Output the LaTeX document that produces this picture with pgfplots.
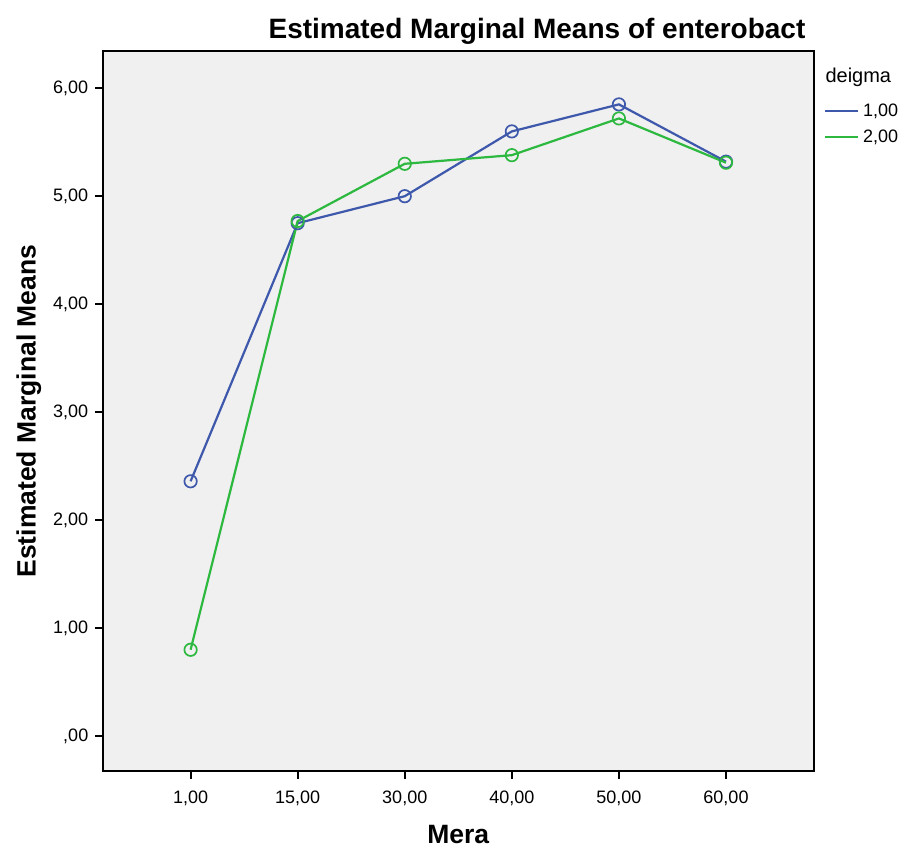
\documentclass[border=0pt]{standalone}
\usepackage{pgfplots}
\pgfplotsset{compat=1.18}
\usepackage{fontspec}
\setmainfont{Liberation Sans}
\definecolor{sblue}{HTML}{3E58AC}
\definecolor{sgreen}{HTML}{2DB83F}
\definecolor{bgray}{HTML}{F0F0F0}
\begin{document}
\begin{tikzpicture}[x=1pt,y=1pt]
\begin{axis}[
  at={(96,73)}, anchor=south west,
  width=711pt, height=720pt, scale only axis,
  xmin=-0.82, xmax=5.82, ymin=-0.324, ymax=6.343,
  axis background/.style={fill=bgray},
  axis line style={line width=1.6pt, black},
  xtick={0,1,2,3,4,5},
  xticklabels={{1,00},{15,00},{30,00},{40,00},{50,00},{60,00}},
  ytick={0,1,2,3,4,5,6},
  yticklabels={{,00},{1,00},{2,00},{3,00},{4,00},{5,00},{6,00}},
  tick align=outside, major tick length=8pt,
  xtick pos=bottom, ytick pos=left,
  tick style={line width=2pt, black},
  tick label style={font=\fontsize{18}{20}\selectfont},
  xticklabel style={yshift=-8pt},
  yticklabel style={xshift=-3pt},
  xlabel={\bfseries Mera},
  ylabel={\bfseries Estimated Marginal Means},
  label style={font=\fontsize{26.5}{30}\selectfont},
  xlabel style={at={(axis description cs:0.5,-0.0875)}, anchor=center},
  ylabel style={at={(axis description cs:-0.104,0.5)}, anchor=center},
  legend style={at={(1.014,0.928)}, anchor=north west, draw=none, fill=none,
    font=\fontsize{18}{20}\selectfont, row sep=10pt, inner sep=0pt,
    nodes={inner ysep=1pt, inner xsep=4pt}},
  legend cell align=left,
  legend image code/.code={\draw[mark repeat=2,mark phase=2,#1] plot coordinates {(0pt,0pt) (16pt,0pt) (33pt,0pt)};},
  legend image post style={mark=none},
  clip=false,
]
\addplot[sblue, line width=2.2pt, mark=o, mark size=6.2pt, mark options={line width=1.7pt}]
  coordinates {(0,2.36) (1,4.75) (2,5.00) (3,5.60) (4,5.85) (5,5.32)};
\addlegendentry{1,00}
\addplot[sgreen, line width=2.2pt, mark=o, mark size=6.2pt, mark options={line width=1.7pt}]
  coordinates {(0,0.80) (1,4.77) (2,5.30) (3,5.38) (4,5.72) (5,5.31)};
\addlegendentry{2,00}
\end{axis}
\node[anchor=west, font=\fontsize{20}{22}\selectfont] at (822,773) {deigma};
\node[font=\bfseries\fontsize{28}{30}\selectfont] at (537,819) {Estimated Marginal Means of enterobact};
\pgfresetboundingbox
\useasboundingbox (0,0) rectangle (906,850);
\end{tikzpicture}
\end{document}
